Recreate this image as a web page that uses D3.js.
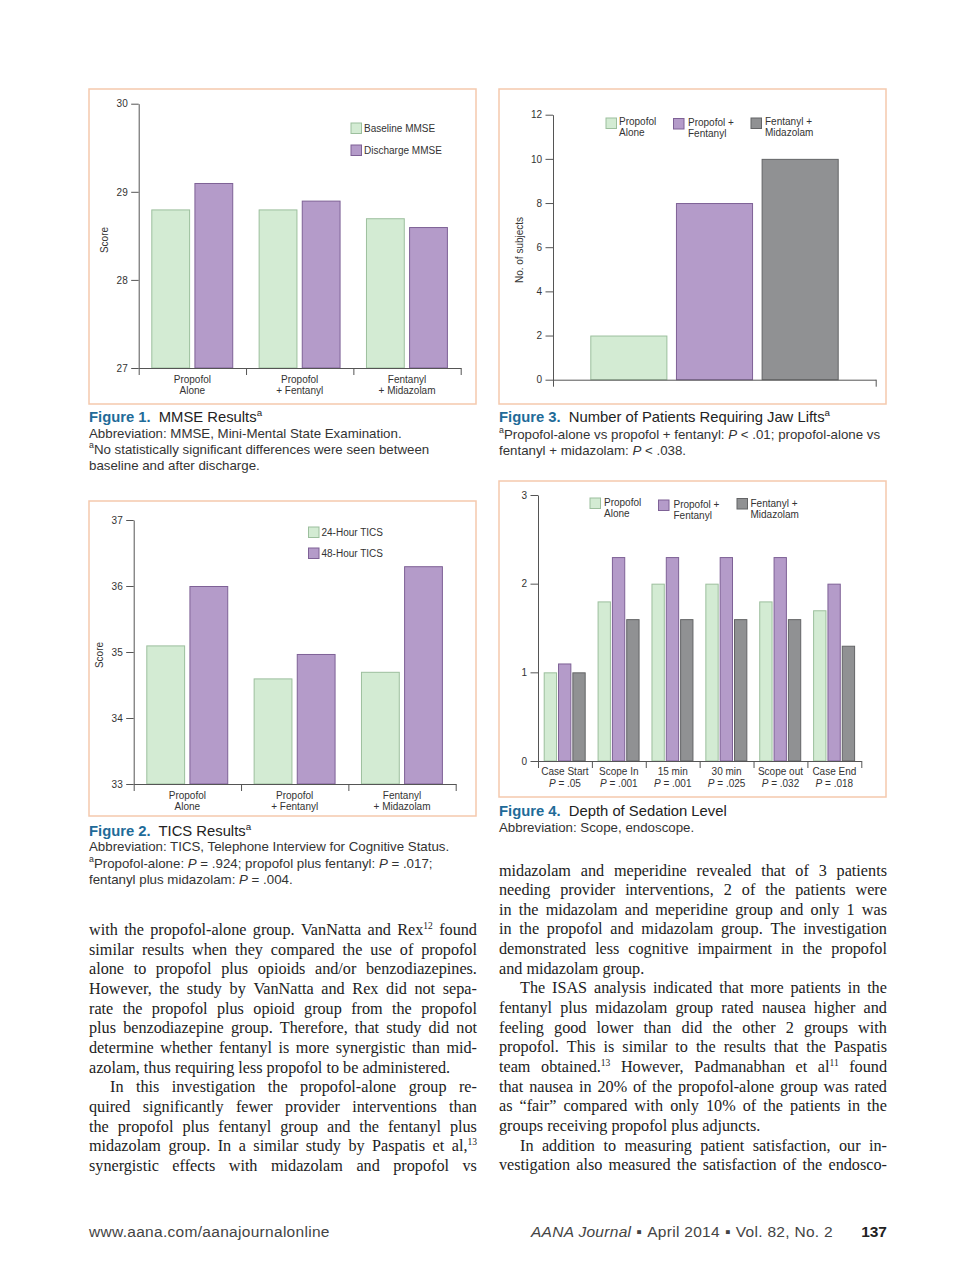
<!DOCTYPE html>
<html><head><meta charset="utf-8">
<script src="https://cdn.jsdelivr.net/npm/d3@7"></script>
<style>
html,body{margin:0;padding:0;background:#fff;}
#page{position:relative;width:960px;height:1284px;overflow:hidden;background:#fff;}
#page svg{position:absolute;left:0;top:0;}
.col{position:absolute;width:388px;font-family:"Liberation Serif","Times New Roman",serif;font-size:16.2px;line-height:19.67px;color:#222;}
.ln{display:flex;justify-content:space-between;align-items:baseline;height:19.67px;white-space:nowrap;}
.ln.last{justify-content:flex-start;column-gap:0.25em;}
.ln.ind{padding-left:21px;}
.ln span{line-height:19.67px;}
.ln sup{font-size:9.5px;position:relative;top:-6px;vertical-align:baseline;line-height:0;}
</style></head>
<body><div id="page"></div>
<script>
// ---------------- DATA ----------------
const fig1Categories = [["Propofol","Alone"],["Propofol","+ Fentanyl"],["Fentanyl","+ Midazolam"]];
const fig1Series = ["Baseline MMSE","Discharge MMSE"];
const fig1Baseline = [28.8, 28.8, 28.7];
const fig1Discharge = [29.1, 28.9, 28.6];
const fig1Ticks = [27, 28, 29, 30];

const fig2Categories = [["Propofol","Alone"],["Propofol","+ Fentanyl"],["Fentanyl","+ Midazolam"]];
const fig2Series = ["24-Hour TICS","48-Hour TICS"];
const fig2Tics24 = [35.1, 34.6, 34.7];
const fig2Tics48 = [36.0, 34.97, 36.3];
const fig2Ticks = [33, 34, 35, 36, 37];

const fig3Series = [["Propofol","Alone"],["Propofol +","Fentanyl"],["Fentanyl +","Midazolam"]];
const fig3Values = [2, 8, 10];
const fig3Ticks = [0, 2, 4, 6, 8, 10, 12];

const fig4Categories = ["Case Start","Scope In","15 min","30 min","Scope out","Case End"];
const fig4PValues = [".05",".001",".001",".025",".032",".018"];
const fig4Series = [["Propofol","Alone"],["Propofol +","Fentanyl"],["Fentanyl +","Midazolam"]];
const fig4PropofolAlone = [1.0, 1.8, 2.0, 2.0, 1.8, 1.7];
const fig4PropofolFentanyl = [1.1, 2.3, 2.3, 2.3, 2.3, 2.0];
const fig4FentanylMidazolam = [1.0, 1.6, 1.6, 1.6, 1.6, 1.3];
const fig4Ticks = [0, 1, 2, 3];

// ---------------- STYLE ----------------
const SANS = '"Liberation Sans", Arial, Helvetica, sans-serif';
const C = {
  green:{f:'#d3ebd3', s:'#9cbf9d'},
  purple:{f:'#b49bc9', s:'#7e6196'},
  gray:{f:'#909193', s:'#636466'},
  axis:'#555', text:'#333', box:'#f5c9ad', head:'#1f6b98'
};

const svg = d3.select('#page').append('svg').attr('width',960).attr('height',1284);

function addText(g, x, y, segs, o){
  const size = o.size;
  const t = g.append('text').attr('x',x).attr('y',y)
    .style('font-family', o.family || SANS).style('font-size', size+'px')
    .attr('fill', o.fill || C.text).attr('text-anchor', o.anchor || 'start');
  if (o.transform) t.attr('transform', o.transform);
  if (o.spacing) t.style('letter-spacing', o.spacing+'px');
  let shift = 0;
  segs.forEach(s=>{
    if (typeof s === 'string') s = {t:s};
    const ts = t.append('tspan').text(s.t);
    let dy = 0;
    if (s.sup){ const k = size*0.4; dy = -k - shift; shift = -k; ts.style('font-size',(size*0.66)+'px'); }
    else if (shift !== 0){ dy = -shift; shift = 0; }
    if (dy) ts.attr('dy', dy);
    if (s.b) ts.style('font-weight','bold');
    if (s.i) ts.style('font-style','italic');
    if (s.fill) ts.attr('fill', s.fill);
    if (s.dx) ts.attr('dx', s.dx);
    if (s.size) ts.style('font-size', s.size+'px');
  });
  return t;
}

function box(x,y,w,h){
  svg.append('rect').attr('x',x).attr('y',y).attr('width',w).attr('height',h)
    .attr('fill','#fff').attr('stroke',C.box).attr('stroke-width',1.5);
}

function styleAxis(ax){
  ax.selectAll('path,line').attr('stroke',C.axis).attr('stroke-width',1);
  ax.selectAll('text').style('font-family',SANS).style('font-size','10px').attr('fill',C.text);
}

function chart(cfg){
  const g = svg.append('g');
  const y = d3.scaleLinear().domain(cfg.yDomain).range([cfg.yBottom, cfg.yTop]);
  const n = cfg.nCats;
  const x0 = d3.scaleBand().domain(d3.range(n)).range([cfg.xLeft, cfg.xRight]);
  const x1 = d3.scaleBand().domain(d3.range(cfg.values.length))
    .range([cfg.padL, x0.bandwidth()-cfg.padR]).paddingInner(cfg.pInner);
  cfg.values.forEach((vals, si)=>{
    g.selectAll(null).data(vals).enter().append('rect')
      .attr('x',(d,i)=>x0(i)+x1(si)+0.5)
      .attr('y',d=>y(d)+0.5)
      .attr('width',x1.bandwidth()-1)
      .attr('height',d=>y(cfg.yDomain[0])-y(d)-0.5)
      .attr('fill',cfg.colors[si].f).attr('stroke',cfg.colors[si].s).attr('stroke-width',1);
  });
  const ay = g.append('g').attr('transform',`translate(${cfg.xLeft},0)`)
    .call(d3.axisLeft(y).tickValues(cfg.ticks).tickFormat(d3.format('d')).tickSize(7.5).tickSizeOuter(0).tickPadding(3.5));
  styleAxis(ay);
  const xt = d3.scaleLinear().domain([0,n]).range([cfg.xLeft, cfg.xRight]);
  const ax = g.append('g').attr('transform',`translate(0,${cfg.yBottom})`)
    .call(d3.axisBottom(xt).tickValues(d3.range(n+1)).tickFormat('').tickSize(7).tickSizeOuter(0));
  styleAxis(ax);
  if (cfg.catLabels){
    cfg.catLabels.forEach((lines,i)=>{
      lines.forEach((segs,li)=>{
        addText(g, x0(i)+x0.bandwidth()/2, cfg.labelY + li*11.5, segs, {size:10, anchor:'middle'});
      });
    });
  }
  if (cfg.yLabel){
    addText(g, 0, 0, [cfg.yLabel], {size:10, anchor:'middle', transform:`translate(${cfg.yLabelX},${cfg.yLabelY}) rotate(-90)`});
  }
  cfg.legend.forEach((L,i)=>{
    g.append('rect').attr('x',L.x+0.5).attr('y',L.y+0.5).attr('width',10.5).attr('height',10.5)
      .attr('fill',cfg.colors[i].f).attr('stroke',cfg.colors[i].s);
    L.lines.forEach((ln,li)=>addText(g, L.tx, L.by + li*11.3, [ln], {size:10}));
  });
}

// ---------------- FIGURE 1 ----------------
box(89,89,387,315);
chart({
  nCats:3, values:[fig1Baseline, fig1Discharge], colors:[C.green,C.purple],
  yDomain:[27,30], yTop:103.7, yBottom:368, xLeft:138.7, xRight:460.7,
  padL:12.6, padR:12.8, pInner:0.1, ticks:fig1Ticks,
  catLabels: fig1Categories.map(c=>c.map(t=>[t])), labelY:382.5,
  yLabel:'Score', yLabelX:108, yLabelY:240,
  legend:[{x:350.5,y:122.5,tx:364,by:132,lines:[fig1Series[0]]},
          {x:350.5,y:144.5,tx:364,by:154,lines:[fig1Series[1]]}]
});

// ---------------- FIGURE 2 ----------------
box(89,501,387,315);
chart({
  nCats:3, values:[fig2Tics24, fig2Tics48], colors:[C.green,C.purple],
  yDomain:[33,37], yTop:520, yBottom:784, xLeft:133.7, xRight:455.7,
  padL:12.6, padR:12.8, pInner:0.1, ticks:fig2Ticks,
  catLabels: fig2Categories.map(c=>c.map(t=>[t])), labelY:798.5,
  yLabel:'Score', yLabelX:103, yLabelY:655,
  legend:[{x:308,y:526.5,tx:321.5,by:536,lines:[fig2Series[0]]},
          {x:308,y:547.5,tx:321.5,by:557,lines:[fig2Series[1]]}]
});

// ---------------- FIGURE 3 ----------------
box(499,89,387,315);
chart({
  nCats:1, values:fig3Values.map(v=>[v]), colors:[C.green,C.purple,C.gray],
  yDomain:[0,12], yTop:114.7, yBottom:379.7, xLeft:553, xRight:875.7,
  padL:37.3, padR:37, pInner:0.1, ticks:fig3Ticks,
  yLabel:'No. of subjects', yLabelX:522.5, yLabelY:250,
  legend:[{x:605.5,y:117.5,tx:619,by:125,lines:fig3Series[0]},
          {x:673,y:118,tx:688,by:126,lines:fig3Series[1]},
          {x:750.5,y:117.5,tx:765,by:125,lines:fig3Series[2]}]
});

// ---------------- FIGURE 4 ----------------
box(499,481,387,316);
chart({
  nCats:6, values:[fig4PropofolAlone, fig4PropofolFentanyl, fig4FentanylMidazolam],
  colors:[C.green,C.purple,C.gray],
  yDomain:[0,3], yTop:495, yBottom:761, xLeft:538, xRight:861.3,
  padL:5.7, padR:6.2, pInner:0.07, ticks:fig4Ticks,
  catLabels: fig4Categories.map((c,i)=>[[c],[{t:'P',i:true},' = '+fig4PValues[i]]]), labelY:775,
  legend:[{x:589.5,y:497.5,tx:604,by:506,lines:fig4Series[0]},
          {x:658,y:499.5,tx:673.5,by:508,lines:fig4Series[1]},
          {x:736.5,y:498,tx:750.5,by:506.5,lines:fig4Series[2]}]
});

// ---------------- CAPTIONS ----------------
const cap = svg.append('g');
function caption(x, yHead, head, title, sup, lines, y0, lh){
  const segs = [{t:head,b:true,fill:C.head},{t:title,dx:4}];
  if (sup) segs.push({t:'a',sup:true});
  addText(cap, x, yHead, segs, {size:14.8, fill:'#222'});
  lines.forEach((l,i)=>addText(cap, x, y0+i*lh, l, {size:13.3, fill:'#333'}));
}
caption(89, 422, 'Figure 1.', ' MMSE Results', true, [
  ['Abbreviation: MMSE, Mini-Mental State Examination.'],
  [{t:'a',sup:true},'No statistically significant differences were seen between'],
  ['baseline and after discharge.']
], 437.5, 16.3);
caption(499, 422, 'Figure 3.', ' Number of Patients Requiring Jaw Lifts', true, [
  [{t:'a',sup:true},'Propofol-alone vs propofol + fentanyl: ',{t:'P',i:true},' < .01; propofol-alone vs'],
  ['fentanyl + midazolam: ',{t:'P',i:true},' < .038.']
], 438.5, 16.3);
caption(89, 835.5, 'Figure 2.', ' TICS Results', true, [
  ['Abbreviation: TICS, Telephone Interview for Cognitive Status.'],
  [{t:'a',sup:true},'Propofol-alone: ',{t:'P',i:true},' = .924; propofol plus fentanyl: ',{t:'P',i:true},' = .017;'],
  ['fentanyl plus midazolam: ',{t:'P',i:true},' = .004.']
], 851, 16.5);
caption(499, 816, 'Figure 4.', ' Depth of Sedation Level', false, [
  ['Abbreviation: Scope, endoscope.']
], 832, 16.3);

// ---------------- FOOTER ----------------
addText(svg, 89, 1237, ['www.aana.com/aanajournalonline'], {size:15.5, fill:'#444', spacing:0.3});
addText(svg, 833, 1237, [{t:'AANA Journal',i:true},{t:'▪',dx:5},{t:'April 2014',dx:5},{t:'▪',dx:5},{t:'Vol. 82, No. 2',dx:5}], {size:15.5, fill:'#444', anchor:'end', spacing:0.3});
addText(svg, 887, 1237, [{t:'137',b:true}], {size:15.5, fill:'#222', anchor:'end'});

// ---------------- BODY TEXT ----------------
const leftLines = [
  ['with the propofol-alone group. VanNatta and Rex^{12} found'],
  ['similar results when they compared the use of propofol'],
  ['alone to propofol plus opioids and/or benzodiazepines.'],
  ['However, the study by VanNatta and Rex did not sepa-'],
  ['rate the propofol plus opioid group from the propofol'],
  ['plus benzodiazepine group. Therefore, that study did not'],
  ['determine whether fentanyl is more synergistic than mid-'],
  ['azolam, thus requiring less propofol to be administered.','last'],
  ['In this investigation the propofol-alone group re-','ind'],
  ['quired significantly fewer provider interventions than'],
  ['the propofol plus fentanyl group and the fentanyl plus'],
  ['midazolam group. In a similar study by Paspatis et al,^{13}'],
  ['synergistic effects with midazolam and propofol vs']
];
const rightLines = [
  ['midazolam and meperidine revealed that of 3 patients'],
  ['needing provider interventions, 2 of the patients were'],
  ['in the midazolam and meperidine group and only 1 was'],
  ['in the propofol and midazolam group. The investigation'],
  ['demonstrated less cognitive impairment in the propofol'],
  ['and midazolam group.','last'],
  ['The ISAS analysis indicated that more patients in the','ind'],
  ['fentanyl plus midazolam group rated nausea higher and'],
  ['feeling good lower than did the other 2 groups with'],
  ['propofol. This is similar to the results that the Paspatis'],
  ['team obtained.^{13} However, Padmanabhan et al^{11} found'],
  ['that nausea in 20% of the propofol-alone group was rated'],
  ['as “fair” compared with only 10% of the patients in the'],
  ['groups receiving propofol plus adjuncts.','last'],
  ['In addition to measuring patient satisfaction, our in-','ind'],
  ['vestigation also measured the satisfaction of the endosco-']
];
function column(lines, left, top){
  const col = d3.select('#page').append('div').attr('class','col')
    .style('left',left+'px').style('top',top+'px');
  lines.forEach(([txt, cls])=>{
    const ln = col.append('div').attr('class','ln'+(cls?' '+cls:''));
    txt.split(' ').forEach(w=>{
      ln.append('span').html(w.replace(/\^\{(\d+)\}/g,'<sup>$1</sup>'));
    });
  });
}
column(leftLines, 89, 921);
column(rightLines, 499, 861.5);
</script>
</body></html>
